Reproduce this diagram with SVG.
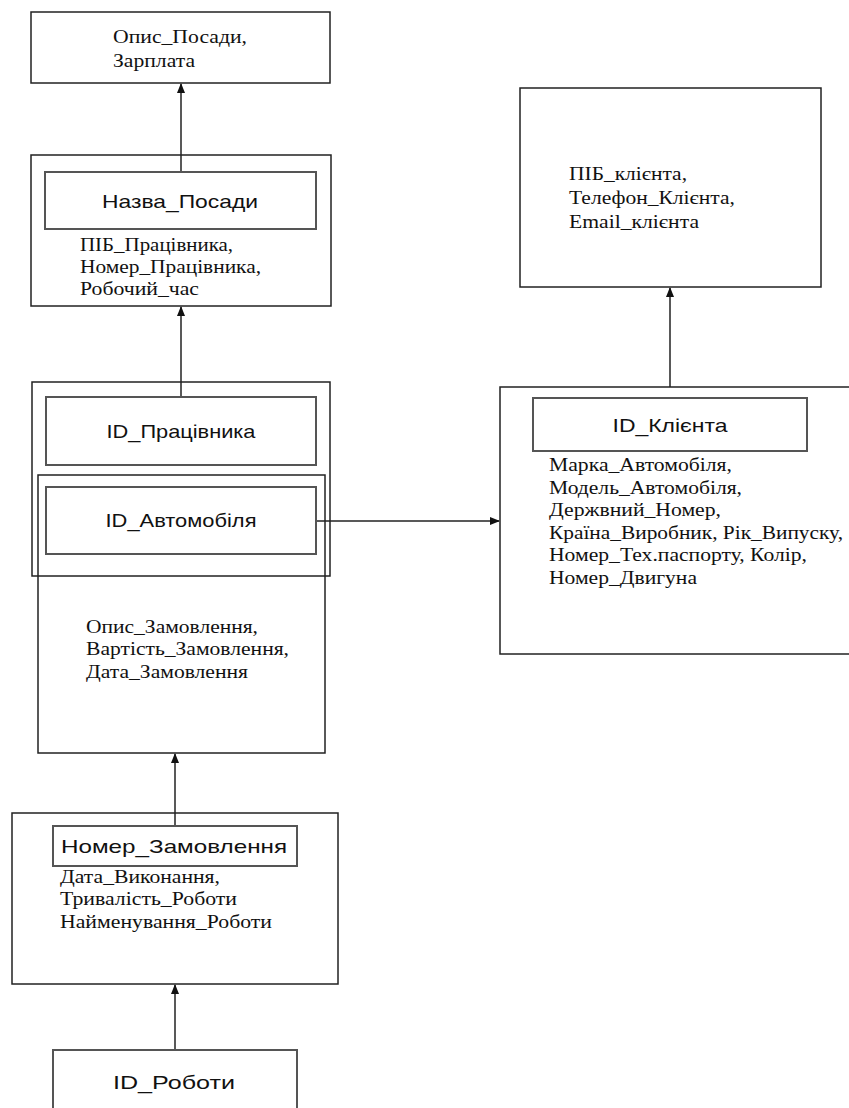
<svg xmlns="http://www.w3.org/2000/svg" width="849" height="1108" viewBox="0 0 849 1108">
<style>
.outer{fill:none;stroke:#222;stroke-width:1.5}
.inner{fill:none;stroke:#555;stroke-width:2}
.key{font-family:"Liberation Sans",Arial,sans-serif;font-size:19px;fill:#111;text-anchor:middle}
.attr{font-family:"Liberation Serif","Times New Roman",serif;font-size:19px;fill:#111}
.conn{stroke:#222;stroke-width:1.5;fill:none;marker-end:url(#arr)}
</style>
<defs>
<marker id="arr" markerWidth="10" markerHeight="8" refX="9" refY="4" orient="auto" markerUnits="userSpaceOnUse">
<path d="M0,0 L10,4 L0,8 Z" fill="#111"/>
</marker>
</defs>
<rect width="849" height="1108" fill="#fff"/>
<g id="connectors">
<line class="conn" x1="181" y1="172" x2="181" y2="84"/>
<line class="conn" x1="181" y1="397" x2="181" y2="307"/>
<line class="conn" x1="316" y1="521" x2="499" y2="521"/>
<line class="conn" x1="670" y1="387" x2="670" y2="288"/>
<line class="conn" x1="175" y1="826" x2="175" y2="754"/>
<line class="conn" x1="175" y1="1050" x2="175" y2="985"/>
</g>
<g id="posada">
<rect class="outer" x="31" y="12" width="299" height="71"/>
<text class="attr" x="113" y="43" textLength="134" lengthAdjust="spacingAndGlyphs">Опис_Посади,</text>
<text class="attr" x="113" y="67" textLength="82" lengthAdjust="spacingAndGlyphs">Зарплата</text>
</g>
<g id="pracivnyk">
<rect class="outer" x="31" y="155" width="300" height="151"/>
<rect class="inner" x="45" y="172" width="271" height="57"/>
<text class="key" x="180" y="208" textLength="156" lengthAdjust="spacingAndGlyphs">Назва_Посади</text>
<text class="attr" x="80" y="251" textLength="153" lengthAdjust="spacingAndGlyphs">ПІБ_Працівника,</text>
<text class="attr" x="80" y="273" textLength="181" lengthAdjust="spacingAndGlyphs">Номер_Працівника,</text>
<text class="attr" x="80" y="295" textLength="119" lengthAdjust="spacingAndGlyphs">Робочий_час</text>
</g>
<g id="zamovlennia">
<rect class="outer" x="32" y="382" width="298" height="194"/>
<rect class="outer" x="38" y="475" width="287" height="278"/>
<rect class="inner" x="46" y="397" width="270" height="68"/>
<text class="key" x="181" y="438" textLength="149" lengthAdjust="spacingAndGlyphs">ID_Працівника</text>
<rect class="inner" x="46" y="487" width="270" height="67"/>
<text class="key" x="181" y="527" textLength="151" lengthAdjust="spacingAndGlyphs">ID_Автомобіля</text>
<text class="attr" x="86" y="633" textLength="172" lengthAdjust="spacingAndGlyphs">Опис_Замовлення,</text>
<text class="attr" x="86" y="655" textLength="203" lengthAdjust="spacingAndGlyphs">Вартість_Замовлення,</text>
<text class="attr" x="86" y="678" textLength="162" lengthAdjust="spacingAndGlyphs">Дата_Замовлення</text>
</g>
<g id="klient">
<rect class="outer" x="520" y="88" width="301" height="199"/>
<text class="attr" x="569" y="180" textLength="118" lengthAdjust="spacingAndGlyphs">ПІБ_клієнта,</text>
<text class="attr" x="569" y="204" textLength="166" lengthAdjust="spacingAndGlyphs">Телефон_Клієнта,</text>
<text class="attr" x="569" y="228" textLength="130" lengthAdjust="spacingAndGlyphs">Email_клієнта</text>
</g>
<g id="avtomobil">
<rect class="outer" x="500" y="387" width="360" height="267"/>
<rect class="inner" x="533" y="398" width="274" height="53"/>
<text class="key" x="670" y="432" textLength="115" lengthAdjust="spacingAndGlyphs">ID_Клієнта</text>
<text class="attr" x="549" y="471" textLength="183" lengthAdjust="spacingAndGlyphs">Марка_Автомобіля,</text>
<text class="attr" x="549" y="494" textLength="193" lengthAdjust="spacingAndGlyphs">Модель_Автомобіля,</text>
<text class="attr" x="549" y="516" textLength="172" lengthAdjust="spacingAndGlyphs">Держвний_Номер,</text>
<text class="attr" x="549" y="539" textLength="294" lengthAdjust="spacingAndGlyphs">Країна_Виробник, Рік_Випуску,</text>
<text class="attr" x="549" y="561" textLength="258" lengthAdjust="spacingAndGlyphs">Номер_Тех.паспорту, Колір,</text>
<text class="attr" x="549" y="584" textLength="148" lengthAdjust="spacingAndGlyphs">Номер_Двигуна</text>
</g>
<g id="robota">
<rect class="outer" x="12" y="813" width="326" height="171"/>
<rect class="inner" x="53" y="826" width="244" height="40"/>
<text class="key" x="174" y="853" textLength="226" lengthAdjust="spacingAndGlyphs">Номер_Замовлення</text>
<text class="attr" x="60" y="883" textLength="160" lengthAdjust="spacingAndGlyphs">Дата_Виконання,</text>
<text class="attr" x="60" y="905" textLength="177" lengthAdjust="spacingAndGlyphs">Тривалість_Роботи</text>
<text class="attr" x="60" y="928" textLength="212" lengthAdjust="spacingAndGlyphs">Найменування_Роботи</text>
</g>
<g id="id_roboty">
<rect class="inner" x="53" y="1050" width="244" height="70"/>
<text class="key" x="174" y="1089" textLength="122" lengthAdjust="spacingAndGlyphs">ID_Роботи</text>
</g>
</svg>
